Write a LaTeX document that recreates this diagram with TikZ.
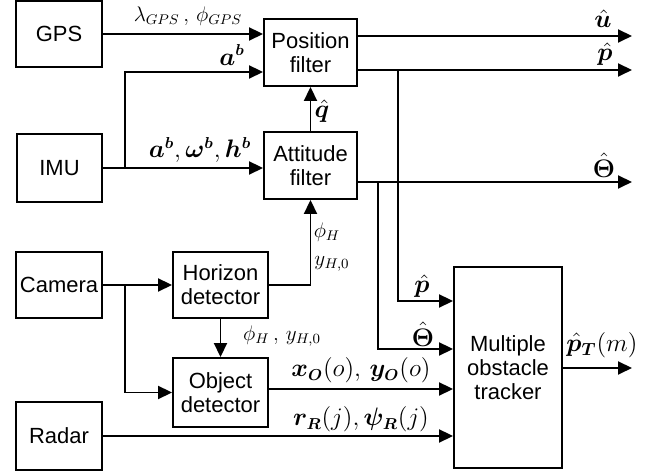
\documentclass[tikz,border=0pt]{standalone}
\usepackage{fontspec}
\setmainfont{Liberation Sans}
\usepackage{amsmath}
\usepackage{bm}
\usetikzlibrary{arrows.meta,positioning}

\begin{document}
\begin{tikzpicture}[x=0.02cm,y=-0.02cm]
    \tikzset{block/.style={draw,line width=1.1pt,align=center,inner sep=0pt,
            font=\fontsize{12.5}{13.5}\selectfont},
        sig/.style={line width=1.1pt,-{Triangle[length=0.28cm,width=0.26cm]}},
        lbl/.style={inner sep=0pt,font=\fontsize{12}{14}\selectfont},
        blbl/.style={inner sep=0pt,font=\fontsize{13.5}{15}\selectfont}}
    \useasboundingbox (0,0) rectangle (660,475);
    % sensors
    \node[block,minimum width=1.72cm,minimum height=1.32cm] (gps) at (59,34) {GPS};
    \node[block,minimum width=1.70cm,minimum height=1.36cm] (imu) at (59.5,168) {IMU};
    \node[block,minimum width=1.72cm,minimum height=1.32cm] (cam) at (59,285) {Camera};
    \node[block,minimum width=1.72cm,minimum height=1.36cm] (rad) at (59,436) {Radar};
    % processing blocks
    \node[block,minimum width=1.86cm,minimum height=1.34cm] (pos) at (310.5,52.5) {Position\\filter};
    \node[block,minimum width=1.86cm,minimum height=1.34cm] (att) at (310.5,165.5) {Attitude\\filter};
    \node[block,minimum width=1.90cm,minimum height=1.32cm] (hor) at (220.5,285) {Horizon\\detector};
    \node[block,minimum width=1.90cm,minimum height=1.38cm] (obj) at (220.5,392.5) {Object\\detector};
    \node[block,minimum width=2.16cm,minimum height=4.02cm] (trk) at (508,367.5) {Multiple\\obstacle\\tracker};
    % branch points and free ends
    \coordinate (imubr) at (125,168);
    \coordinate (cambr) at (125,285);
    \coordinate (pbr) at (398,70);
    \coordinate (thbr) at (378,182);
    \coordinate (uout) at (632,36);
    \coordinate (pout) at (632,70);
    \coordinate (thout) at (632,182);
    \coordinate (trkout) at (632,368);
    % connectors
    \draw[sig] (gps.east) -- (gps.east -| pos.west);
    \draw[sig] (imu.east) -- (imu.east -| att.west);
    \draw[sig] (imubr) |- (pos.west |- 0,72);
    \draw[sig] (att.north) -- (pos.south);
    \draw[sig] (hor.east) -| (att.south);
    \draw[sig] (cam.east) -- (hor.west);
    \draw[sig] (cambr) |- (obj.west);
    \draw[sig] (hor.south) -- (obj.north);
    \draw[sig] (pos.east |- uout) -- (uout);
    \draw[sig] (pos.east |- pout) -- (pout);
    \draw[sig] (att.east |- thout) -- (thout);
    \draw[sig] (pbr) |- (trk.west |- 0,301);
    \draw[sig] (thbr) |- (trk.west |- 0,349);
    \draw[sig] (obj.east |- 0,389) -- (trk.west |- 0,389);
    \draw[sig] (rad.east) -- (rad.east -| trk.west);
    \draw[sig] (trk.east |- trkout) -- (trkout);
    % signal labels
    \node[lbl] (lgps) at (188,16) {$\lambda_{GPS}\,,\,\phi_{GPS}$};
    \node[blbl] (lacc) at (232,55) {$\bm{a}^{\bm{b}}$};
    \node[blbl] (limu) at (200,150) {$\bm{a}^{\bm{b}},\bm{\omega}^{\bm{b}},\bm{h}^{\bm{b}}$};
    \node[blbl] (lq) at (322,111) {$\hat{\bm{q}}$};
    \node[lbl] (lphi) at (327,232) {$\phi_{H}$};
    \node[lbl] (lyh) at (332,264) {$y_{H,0}$};
    \node[lbl] (lhor) at (282,336) {$\phi_{H}\,,\,y_{H,0}$};
    \node[blbl] (lobj) at (361,370) {$\bm{x}_{\bm{O}}(o),\,\bm{y}_{\bm{O}}(o)$};
    \node[blbl] (lrad) at (361,419) {$\bm{r}_{\bm{R}}(j),\bm{\psi}_{\bm{R}}(j)$};
    \node[blbl] (lu) at (603,19) {$\hat{\bm{u}}$};
    \node[blbl] (lp) at (605,54) {$\hat{\bm{p}}$};
    \node[blbl] (lth) at (604,165) {$\hat{\bm{\Theta}}$};
    \node[blbl] (lpt) at (422,286) {$\hat{\bm{p}}$};
    \node[blbl] (ltht) at (423,334) {$\hat{\bm{\Theta}}$};
    \node[blbl,font=\fontsize{14.5}{16}\selectfont] (lout) at (602,345) {$\hat{\bm{p}}_{\bm{T}}(m)$};
\end{tikzpicture}
\end{document}
